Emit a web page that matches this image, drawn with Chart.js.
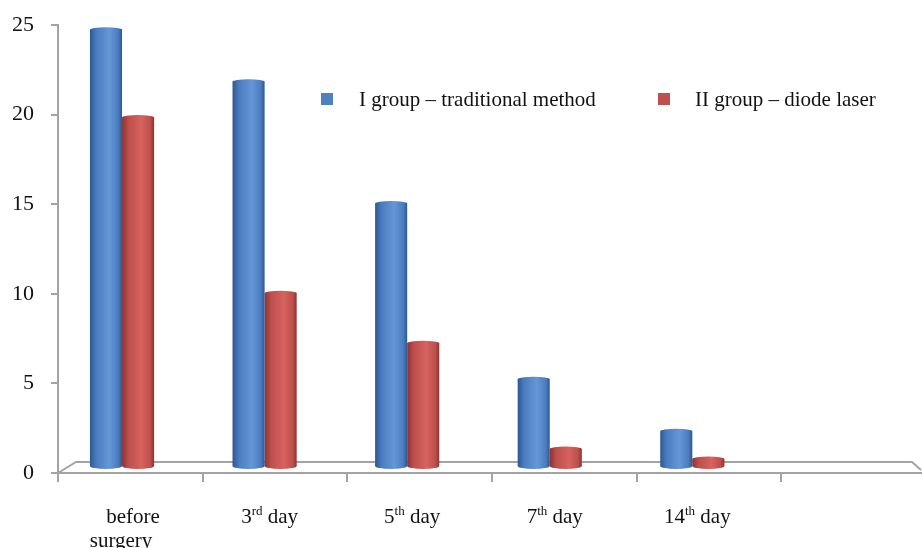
<!DOCTYPE html>
<html>
<head>
<meta charset="utf-8">
<script src="https://cdn.jsdelivr.net/npm/chart.js@4"></script>
<style>
  html, body { margin: 0; padding: 0; background: #fff; overflow: hidden; }
  #wrap { width: 922px; height: 548px; overflow: hidden; }
</style>
</head>
<body>
<div id="wrap"><canvas id="chart" width="930" height="548"></canvas></div>
<script>
const categories = ['before surgery', '3rd day', '5th day', '7th day', '14th day', '']
const seriesNames = ['I group – traditional method', 'II group – diode laser']
const traditional = [24.4, 21.5, 14.7, 4.9, 2.0, null]
const diodeLaser = [19.5, 9.7, 6.9, 1.0, 0.45, null]
const yTicks = [0, 5, 10, 15, 20, 25]

const BLUE = { dark: '#2d5891', mid: '#4a7cbf', light: '#6496d8', key: '#4f81bd' }
const RED = { dark: '#8e3331', mid: '#bd4f4c', light: '#d8625e', key: '#c0504d' }
const AXIS = '#a3a3a3'
const SERIF = '"Liberation Serif", "Times New Roman", serif'
const CAT_PCT = 0.45
// fake 3D: bars recede a little and stand on the floor
const PERSP = { scale: 0.9855, dx: -7.25, dy: -6 }

function applyPerspective(chart) {
  const left = chart.chartArea.left
  const ctx = chart.ctx
  ctx.translate(left + PERSP.dx, PERSP.dy)
  ctx.scale(PERSP.scale, 1)
  ctx.translate(-left, 0)
}

function projectX(chart, x) {
  const left = chart.chartArea.left
  return left + PERSP.dx + PERSP.scale * (x - left)
}

function cylinder(pal) {
  return (c) => {
    const chart = c.chart
    const xs = chart.scales.x
    if (!xs || c.dataIndex == null) return pal.mid
    const barW = (xs.width / categories.length) * CAT_PCT / 2
    const left = xs.getPixelForValue(c.dataIndex) - barW + c.datasetIndex * barW
    if (!isFinite(left) || !isFinite(barW) || barW <= 0) return pal.mid
    const g = chart.ctx.createLinearGradient(left, 0, left + barW, 0)
    g.addColorStop(0, pal.dark)
    g.addColorStop(0.2, pal.mid)
    g.addColorStop(0.6, pal.light)
    g.addColorStop(0.88, pal.mid)
    g.addColorStop(1, pal.dark)
    return g
  }
}

const floorPlugin = {
  id: 'floor',
  beforeDatasetsDraw(chart) {
    const { ctx, chartArea } = chart
    const y0 = chart.scales.y.getPixelForValue(0)
    const right = 921
    ctx.save()
    ctx.strokeStyle = AXIS
    ctx.lineWidth = 2
    ctx.beginPath()
    ctx.moveTo(chartArea.left, y0)
    ctx.lineTo(chartArea.left + 18, y0 - 11)
    ctx.lineTo(right - 9, y0 - 11)
    ctx.lineTo(right, y0 - 3)
    ctx.moveTo(chartArea.left, y0)
    ctx.lineTo(right + 4, y0)
    ctx.stroke()
    ctx.restore()
    ctx.save()
    applyPerspective(chart)
  },
  afterDatasetsDraw(chart) {
    const ctx = chart.ctx
    // rounded cylinder ends
    chart.data.datasets.forEach((ds, i) => {
      const meta = chart.getDatasetMeta(i)
      meta.data.forEach((el, j) => {
        if (ds.data[j] == null || !isFinite(el.y)) return
        ctx.fillStyle = el.options.backgroundColor
        ctx.beginPath()
        ctx.ellipse(el.x, el.base, el.width / 2, 3, 0, 0, Math.PI * 2)
        ctx.fill()
        ctx.beginPath()
        ctx.ellipse(el.x, el.y, el.width / 2, 2.5, 0, 0, Math.PI * 2)
        ctx.fill()
      })
    })
    ctx.restore()
  }
}

function drawCategory(ctx, text, cx, baseline) {
  const m = text.match(/^(\d+)(st|nd|rd|th)(.*)$/)
  const big = '21px ' + SERIF
  const small = '13px ' + SERIF
  ctx.textBaseline = 'alphabetic'
  if (m) {
    ctx.font = big
    const w1 = ctx.measureText(m[1]).width
    const w3 = ctx.measureText(m[3]).width
    ctx.font = small
    const w2 = ctx.measureText(m[2]).width
    let x = cx - (w1 + w2 + w3) / 2
    ctx.textAlign = 'left'
    ctx.font = big
    ctx.fillText(m[1], x, baseline)
    ctx.font = small
    ctx.fillText(m[2], x + w1, baseline - 8)
    ctx.font = big
    ctx.fillText(m[3], x + w1 + w2, baseline)
  } else {
    ctx.font = big
    ctx.textAlign = 'center'
    text.split(' ').forEach((line, k) => {
      ctx.fillText(line, cx + (k === 0 ? 6 : -6), baseline + k * 24)
    })
  }
}

const labelsPlugin = {
  id: 'catLabels',
  afterDraw(chart) {
    const ctx = chart.ctx
    const xs = chart.scales.x
    ctx.save()
    ctx.fillStyle = '#111'
    categories.forEach((cat, i) => {
      if (!cat) return
      drawCategory(ctx, cat, projectX(chart, xs.getPixelForValue(i)) + 5, 523)
    })
    ctx.restore()
  }
}

const legendPlugin = {
  id: 'keyLegend',
  afterDraw(chart) {
    const ctx = chart.ctx
    const items = [
      { box: 321, text: 359, color: BLUE.key, label: seriesNames[0] },
      { box: 658, text: 695, color: RED.key, label: seriesNames[1] },
    ]
    ctx.save()
    ctx.font = '21px ' + SERIF
    ctx.textAlign = 'left'
    ctx.textBaseline = 'alphabetic'
    items.forEach((it) => {
      ctx.fillStyle = it.color
      ctx.fillRect(it.box, 93, 12, 12)
      ctx.fillStyle = '#111'
      ctx.fillText(it.label, it.text, 106)
    })
    ctx.restore()
  }
}

new Chart(document.getElementById('chart'), {
  type: 'bar',
  data: {
    labels: categories,
    datasets: [
      { label: seriesNames[0], data: traditional, backgroundColor: cylinder(BLUE) },
      { label: seriesNames[1], data: diodeLaser, backgroundColor: cylinder(RED) },
    ],
  },
  options: {
    responsive: false,
    animation: false,
    devicePixelRatio: 1,
    categoryPercentage: CAT_PCT,
    barPercentage: 1,
    layout: { padding: { top: 25, right: 4, left: 0, bottom: 0 } },
    plugins: {
      legend: { display: false },
      tooltip: { enabled: false },
    },
    scales: {
      x: {
        offset: true,
        grid: { offset: true, drawOnChartArea: false, tickLength: 9, color: AXIS, lineWidth: 2 },
        border: { display: false },
        ticks: { display: false },
        afterFit: (s) => { s.height = 75 },
      },
      y: {
        min: 0,
        max: 25,
        afterBuildTicks: (s) => { s.ticks = yTicks.map((v) => ({ value: v })) },
        grid: { drawOnChartArea: false, tickLength: 7, color: AXIS, lineWidth: 2 },
        border: { color: AXIS, width: 2 },
        ticks: { padding: 17, color: '#111', font: { family: SERIF, size: 22, lineHeight: 0.4 } },
        afterFit: (s) => { s.width = 58 },
      },
    },
  },
  plugins: [floorPlugin, labelsPlugin, legendPlugin],
})
</script>
</body>
</html>
